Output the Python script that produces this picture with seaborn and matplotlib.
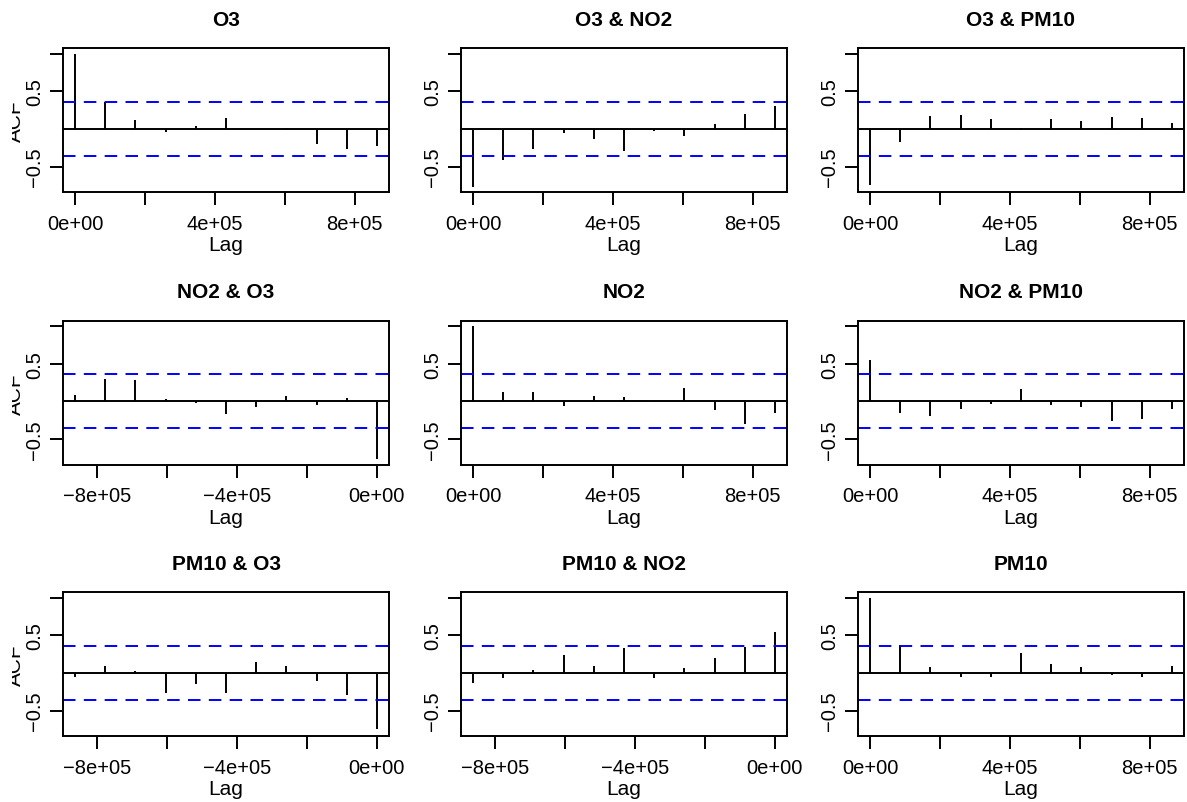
import matplotlib
matplotlib.use("Agg")
import matplotlib.pyplot as plt
from matplotlib.transforms import Bbox
import seaborn as sns
import pandas as pd

# ---------------- data ----------------
lags_pos = [0, 86400, 172800, 259200, 345600, 432000, 518400, 604800, 691200, 777600, 864000]
lags_neg = [-864000, -777600, -691200, -604800, -518400, -432000, -345600, -259200, -172800, -86400, 0]

acf_o3 = [1.0, 0.36, 0.12, -0.04, 0.035, 0.15, 0.005, 0.01, -0.20, -0.26, -0.22]
acf_o3_no2 = [-0.77, -0.41, -0.26, -0.05, -0.13, -0.29, -0.03, -0.10, 0.06, 0.20, 0.30]
acf_o3_pm10 = [-0.74, -0.17, 0.175, 0.19, 0.13, 0.01, 0.13, 0.11, 0.165, 0.15, 0.08]
acf_no2_o3 = [0.087, 0.296, 0.278, 0.026, -0.02, -0.174, -0.078, 0.07, -0.05, 0.048, -0.77]
acf_no2 = [1.0, 0.12, 0.12, -0.06, 0.07, 0.057, -0.01, 0.18, -0.117, -0.30, -0.16]
acf_no2_pm10 = [0.55, -0.15, -0.19, -0.096, -0.03, 0.165, -0.05, -0.07, -0.26, -0.24, -0.10]
acf_pm10_o3 = [-0.057, 0.088, 0.02, -0.26, -0.15, -0.27, 0.14, 0.088, -0.11, -0.29, -0.74]
acf_pm10_no2 = [-0.136, -0.066, 0.044, 0.237, 0.096, 0.325, -0.066, 0.061, 0.197, 0.342, 0.55]
acf_pm10 = [1.0, 0.373, 0.075, -0.048, -0.06, 0.27, 0.118, 0.075, -0.026, -0.057, 0.088]

ci_limit = 0.357

titles = ["O3", "O3 & NO2", "O3 & PM10",
          "NO2 & O3", "NO2", "NO2 & PM10",
          "PM10 & O3", "PM10 & NO2", "PM10"]
panel_values = [acf_o3, acf_o3_no2, acf_o3_pm10,
                acf_no2_o3, acf_no2, acf_no2_pm10,
                acf_pm10_o3, acf_pm10_no2, acf_pm10]
panel_lags = [lags_pos, lags_pos, lags_pos,
              lags_neg, lags_pos, lags_pos,
              lags_neg, lags_neg, lags_pos]

xticks_pos = [0, 200000, 400000, 600000, 800000]
xlabels_pos = ["0e+00", "", "4e+05", "", "8e+05"]
xticks_neg = [-800000, -600000, -400000, -200000, 0]
xlabels_neg = ["\u22128e+05", "", "\u22124e+05", "", "0e+00"]
yticks = [-0.5, 0.5, 1.0]
ylabels = ["\u22120.5", "0.5", ""]

frames = []
for t, v, l in zip(titles, panel_values, panel_lags):
    frames.append(pd.DataFrame({"panel": t, "lag": l, "acf": v}))
df = pd.concat(frames, ignore_index=True)

# ---------------- style ----------------
sns.set_theme(style="ticks")
plt.rcParams["font.family"] = ["Liberation Sans", "DejaVu Sans"]
plt.rcParams["lines.scale_dashes"] = False

W, H = 1187, 803
fig = plt.figure(figsize=(W / 100, H / 100), dpi=100)
fig.patch.set_facecolor("white")

col_left = [63, 461, 858]
row_top = [49.3, 321.7, 593.3]
pw, ph = 326, 144
LW = 1.4

lo = min(df["acf"].min(), -ci_limit)
hi = max(df["acf"].max(), ci_limit)
ext = 0.04 * (hi - lo)
ylim = (lo - ext, hi + ext)

for i, title in enumerate(titles):
    r, c = divmod(i, 3)
    ax = fig.add_axes([col_left[c] / W, 1 - (row_top[r] + ph) / H, pw / W, ph / H])
    sub = df[df["panel"] == title]
    lags = sub["lag"].to_numpy()
    vals = sub["acf"].to_numpy()
    xmin, xmax = lags.min(), lags.max()
    xext = 0.04 * (xmax - xmin)
    ax.set_xlim(xmin - xext, xmax + xext)
    ax.set_ylim(*ylim)
    ax.vlines(lags, 0, vals, color="black", lw=LW)
    ax.axhline(0, color="black", lw=LW)
    for yy in (ci_limit, -ci_limit):
        ax.axhline(yy, color="#0000FF", lw=LW, linestyle=(0, (9, 6)))
    if xmin < 0:
        ax.set_xticks(xticks_neg)
        ax.set_xticklabels(xlabels_neg)
    else:
        ax.set_xticks(xticks_pos)
        ax.set_xticklabels(xlabels_pos)
    ax.set_yticks(yticks)
    ax.set_yticklabels(ylabels, rotation=90, va="center")
    ax.tick_params(axis="both", direction="out", length=9.4, width=LW,
                   labelsize=14.5, color="black", labelcolor="black")
    ax.tick_params(axis="x", pad=6)
    ax.tick_params(axis="y", pad=4)
    for s in ax.spines.values():
        s.set_linewidth(LW)
        s.set_color("black")
    ax.set_facecolor("white")
    ax.grid(False)
    ax.set_xlabel("Lag", fontsize=15, color="black", labelpad=2)
    ax.set_title(title, fontsize=15, fontweight="bold", color="black", pad=17)

    if c == 0:
        yc = H - (row_top[r] + ph / 2)
        t = fig.text(15 / W, yc / H, "ACF", rotation=90, fontsize=15,
                     ha="center", va="center", color="black")
        t.set_clip_on(True)
        t.set_clip_box(Bbox.from_extents(12, 0, W, H))

fig.savefig("out.png", dpi=100, facecolor="white")
